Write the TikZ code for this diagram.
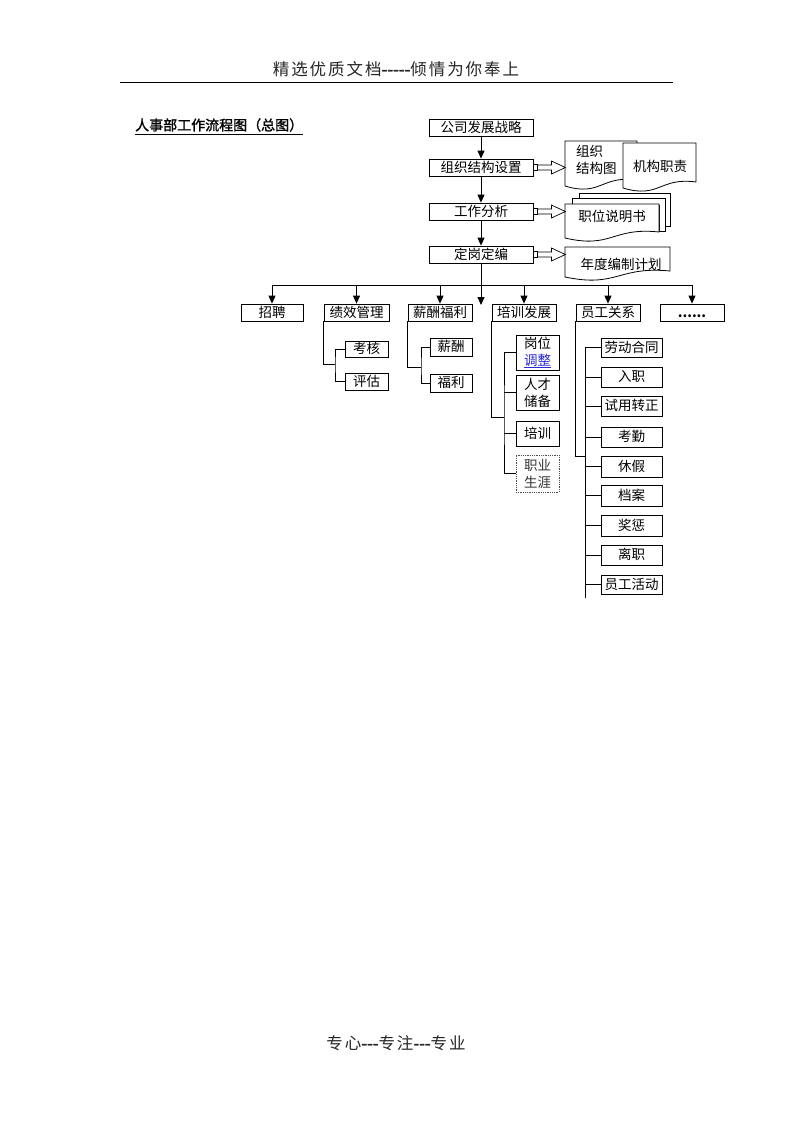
\documentclass[tikz,border=0pt]{standalone}
\usepackage{fontspec}
\setmainfont{Noto Sans CJK SC}
\newfontfamily\titlefont{Noto Sans CJK SC}[FakeBold=1.5]
\newfontfamily\hdrfont{Noto Sans CJK SC}[LetterSpace=12]
\newfontfamily\dashfont{Noto Sans CJK SC}[FakeBold=2.5]
\usetikzlibrary{arrows.meta,calc}
\definecolor{linkblue}{RGB}{40,40,215}
\tikzset{
  box/.style={draw, line width=0.8pt, inner sep=0pt, fill=white,
    font=\fontsize{13.5}{16}\selectfont, text height=11.6pt, text depth=1.9pt},
  tbox/.style={draw, line width=0.8pt, inner sep=0pt, fill=white, align=center,
    font=\fontsize{13.5}{17}\selectfont},
  conn/.style={line width=0.8pt},
  arr/.style={line width=0.8pt, -{Triangle[length=8pt,width=7pt]}},
  docshape/.style={draw, line width=0.8pt, fill=white},
  doctext/.style={inner sep=0pt, font=\fontsize{13.5}{17}\selectfont},
  blockarrow/.style={draw, line width=0.7pt, fill=white},
  pagetext/.style={inner sep=0pt, font=\fontsize{16.5}{18}\hdrfont, text=black!85},
}
\newcommand\bx[7][]{\node[box,#1,minimum width={#5-#3},minimum height={#6-#4}] (#2) at ({(#3+#5)/2},{(#4+#6)/2}) {#7};}
% document outline: x0, y0, x1, bottom-left y
\newcommand\docpath[4]{\path[docshape] (#1,#2) -- (#3,#2) -- (#3,#4-6) .. controls ({(#1+#3)/2},#4-11) and ({(#1+#3)/2},#4+11) .. (#1,#4) -- cycle;}
\newcommand\barrow[1]{\begin{scope}[shift={(#1)}]
  \path[blockarrow] (0,-3) rectangle (4,3);
  \path[blockarrow] (4,-2.5) -- (18,-2.5) -- (18,-6.5) -- (32,0) -- (18,6.5) -- (18,2.5) -- (4,2.5) -- cycle;
\end{scope}}
\newcommand\dashes[1]{{\dashfont #1}}
\begin{document}
\begin{tikzpicture}[x=1pt,y=-1pt]
\useasboundingbox (0,0) rectangle (793,1122);
\fill[white] (0,0) rectangle (793,1122);

% header and footer
\node[pagetext] (header) at (396,69) {精选优质文档\dashes{-{}-{}-{}-{}-}倾情为你奉上};
\coordinate (hl) at (120,82);
\coordinate (hr) at (673,82);
\draw[line width=0.9pt] (hl) -- (hr);
\node[pagetext] (footer) at (396,1043) {专心\dashes{-{}-{}-}专注\dashes{-{}-{}-}专业};

% title
\node[inner sep=0pt, anchor=west, font=\fontsize{14}{16}\titlefont] (title) at (135,125) {人事部工作流程图（总图）};
\draw[line width=0.8pt] ([yshift=-4pt]title.base west) -- ([yshift=-4pt]title.base east);

% main chain
\bx{n1}{429}{119}{533}{136}{公司发展战略}
\bx{n2}{429}{159}{533}{176}{组织结构设置}
\bx{n3}{429}{203}{533}{220}{工作分析}
\bx{n4}{429}{246}{533}{263}{定岗定编}
\draw[arr] (n1.south) -- (n2.north);
\draw[arr] (n2.south) -- (n3.north);
\draw[arr] (n3.south) -- (n4.north);
\coordinate (mainend) at (481,305);
\draw[arr] (n4.south) -- (mainend);

% documents
\docpath{565}{141}{637}{186}
\node[doctext, anchor=north west, align=left] (dA) at (576,145) {组织\\结构图};
\docpath{623}{143}{696}{188}
\node[doctext] (dB) at (660,166) {机构职责};
\path[docshape] (579,200) -- (579,193) -- (670,193) -- (670,226) -- (665,226) -- (665,200) -- cycle;
\path[docshape] (572,205) -- (572,198) -- (665,198) -- (665,231) -- (659,231) -- (659,205) -- cycle;
\docpath{565}{204}{659}{238}
\node[doctext] (dC) at (612,216) {职位说明书};
\docpath{565}{247}{670}{277}
\node[doctext] (dD) at (621,264) {年度编制计划};

\barrow{n2.east}
\barrow{n3.east}
\barrow{n4.east}

% second level
\bx{zp}{241}{304}{303}{321}{招聘}
\bx{jx}{324}{304}{389}{321}{绩效管理}
\bx{xc}{408}{304}{472}{321}{薪酬福利}
\bx{px}{492}{304}{556}{321}{培训发展}
\bx{yg}{576}{304}{640}{321}{员工关系}
\bx{dd}{660}{304}{724}{321}{\textbf{......}}
\coordinate (hub) at (481,285);
\draw[conn] (zp.north |- hub) -- (dd.north |- hub);
\foreach \n in {zp,jx,xc,px,yg,dd}{\draw[arr] (\n.north |- hub) -- (\n.north);}

% 绩效管理
\bx{kh}{345}{341}{388}{357}{考核}
\bx{pg}{345}{373}{388}{390}{评估}
\coordinate (jxb) at (335,364);
\draw[conn] (jx.south west) |- (jxb);
\draw[conn] (kh.west) -| (jxb) |- (pg.west);

% 薪酬福利
\bx{xcc}{430}{338}{472}{356}{薪酬}
\bx{fl}{430}{374}{472}{392}{福利}
\coordinate (xcb) at (421,367);
\draw[conn] (xc.south west) |- (xcb);
\draw[conn] (xcc.west) -| (xcb) |- (fl.west);

% 培训发展
\node[tbox, minimum width=43, minimum height=35] (gw) at (537.5,352.5) {岗位\\\textcolor{linkblue}{\underline{调整}}};
\node[tbox, minimum width=43, minimum height=35] (rc) at (537.5,392.5) {人才\\储备};
\bx{pxx}{516}{421}{559}{446}{培训}
\node[tbox, minimum width=43, minimum height=37, draw=black!70, densely dotted, text=black!80] (zy) at (537.5,473.5) {职业\\生涯};
\coordinate (pxb) at (504,417);
\draw[conn] (px.south west) |- (pxb);
\draw[conn] (gw.west) -| (pxb) |- (zy.west);
\draw[conn] (rc.west) -- (rc.west -| pxb);
\draw[conn] (pxx.west) -- (pxx.west -| pxb);

% 员工关系
\bx{ld}{601}{338}{662}{357}{劳动合同}
\bx{rz}{601}{367}{662}{387}{入职}
\bx{sy}{601}{396}{662}{416}{试用转正}
\bx{kq}{601}{427}{662}{447}{考勤}
\bx{xj}{601}{456}{662}{477}{休假}
\bx{da}{601}{485}{662}{506}{档案}
\bx{jc}{601}{515}{662}{536}{奖惩}
\bx{lz}{601}{545}{662}{565}{离职}
\bx{hd}{601}{575}{662}{594}{员工活动}
\coordinate (ygb) at (585,456);
\coordinate (ygend) at (585,598);
\draw[conn] (yg.south west) |- (ygb);
\draw[conn] (ld.west) -| (ygend);
\foreach \n in {rz,sy,kq,xj,da,jc,lz,hd}{\draw[conn] (\n.west) -- (\n.west -| ygend);}
\end{tikzpicture}
\end{document}
